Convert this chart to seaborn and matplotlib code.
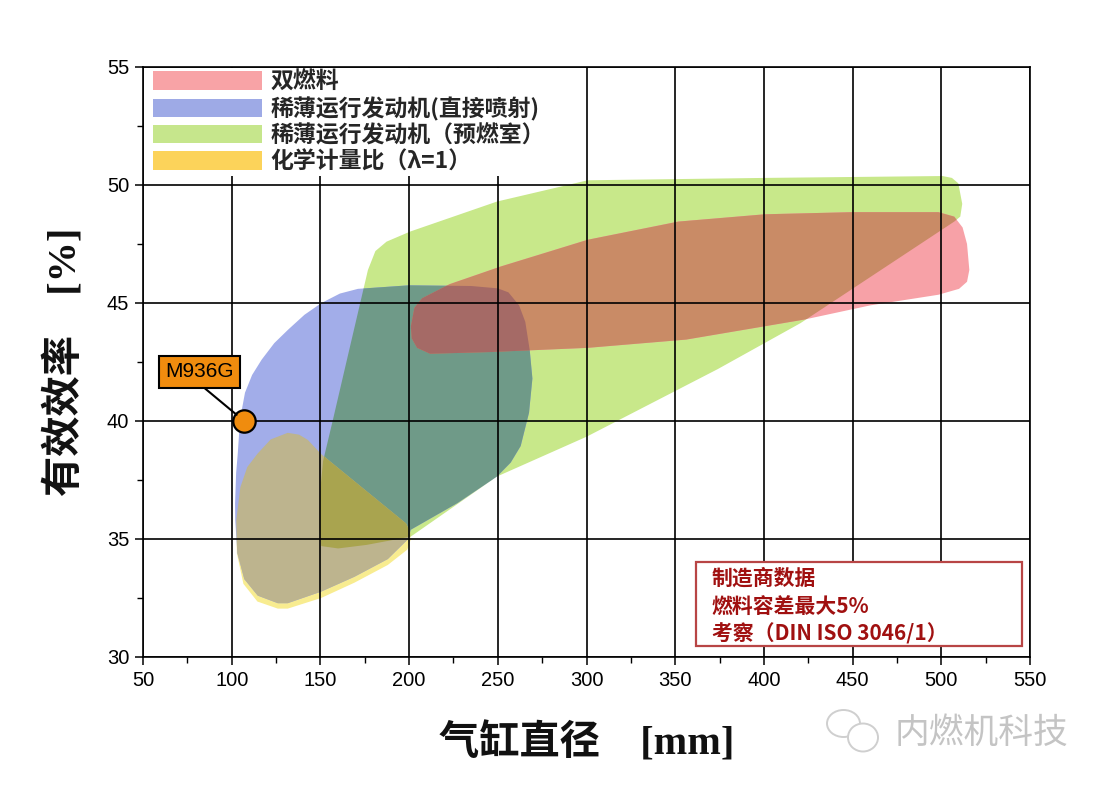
import numpy as np
import pandas as pd
import matplotlib
matplotlib.use("Agg")
import matplotlib.pyplot as plt
import seaborn as sns
from matplotlib.patches import Polygon, Patch, Rectangle, Ellipse

# ---------------- data ----------------
# outline of each operating region: cylinder bore [mm] vs efficiency [%]
red_x = [201, 203, 207.3, 222.9, 251.8, 300.7, 351.8, 400.7, 450, 498.4, 507.3, 512, 514.5, 515.8,
         514.5, 510, 498.4, 460, 422.9, 356.2, 300.7, 245.1, 211.8, 204.5, 201.5]
red_y = [44.0, 44.8, 45.2, 45.8, 46.55, 47.68, 48.45, 48.76, 48.85, 48.85, 48.66, 48.2, 47.5, 46.4,
         45.9, 45.6, 45.35, 44.9, 44.3, 43.45, 43.1, 42.92, 42.85, 43.1, 43.5]

green_x = [150.5, 149.5, 149.6, 151.5, 156.9, 165.9, 176.8, 181, 187.3, 200.7, 249.6, 300.7, 400,
           500.7, 506, 509.6, 511.8, 510.7, 507.3, 420.7, 374, 300.2, 249.6, 200.9, 176, 160]
green_y = [34.7, 35.5, 36.8, 38.3, 40.0, 42.9, 46.4, 47.2, 47.6, 48.03, 49.3, 50.2, 50.3,
           50.38, 50.3, 50.07, 49.2, 48.66, 48.45, 44.15, 42.2, 39.34, 37.65, 35.1, 34.75, 34.6]

blue_x = [171.2, 200, 235, 250, 256, 262, 265.5, 268, 269.5, 267.6, 262.9, 257.3, 249.6, 227.2,
          200.9, 199.5, 188, 169.2, 150.4, 131.6, 126, 114.7, 107.1, 103.2, 102.0, 101.9, 102.5,
          103.4, 104.7, 107.5, 111.5, 116.9, 124, 131.8, 141, 150.6, 161]
blue_y = [45.6, 45.75, 45.72, 45.62, 45.45, 44.9, 44.2, 43.0, 41.8, 40.35, 38.94, 38.24, 37.65, 36.52,
          35.39, 35.0, 34.15, 33.4, 32.77, 32.28, 32.28, 32.6, 33.3, 34.4, 35.8, 36.5, 37.8,
          38.6, 40.07, 41.2, 41.95, 42.6, 43.3, 43.87, 44.5, 45.0, 45.4]

yellow_x = [131.6, 138, 142.9, 150.4, 198.3, 200.6, 200.8, 199, 188, 169.2, 150.4, 131.6, 126, 114.5,
            106.6, 102.9, 102.6, 104.9, 108.8, 114.6, 122]
yellow_y = [39.5, 39.42, 39.2, 38.6, 35.66, 35.3, 34.95, 34.55, 33.9, 33.15, 32.5, 32.05, 32.05, 32.35,
            33.1, 34.4, 35.8, 37.2, 38.05, 38.62, 39.22]

legend_labels = ["双燃料", "稀薄运行发动机(直接喷射)", "稀薄运行发动机（预燃室）", "化学计量比（λ=1）"]

engine_name = ["M936G"]
engine_bore = [107]
engine_eff = [40.0]

note_lines = ["制造商数据", "燃料容差最大5%", "考察（DIN ISO 3046/1）"]

x_ticks = [50, 100, 150, 200, 250, 300, 350, 400, 450, 500, 550]
y_ticks = [30, 35, 40, 45, 50, 55]

# ---------------- styling ----------------
sns.set_theme(style="white")
plt.rcParams['font.family'] = ['Liberation Sans', 'Noto Sans CJK SC', 'DejaVu Sans']
CJK = ['Noto Sans CJK SC', 'DejaVu Sans']
SERIF_CJK = ['Liberation Serif', 'Noto Sans CJK SC', 'DejaVu Sans']

col_single = {"red": "#f7a1a7", "green": "#c8e88a", "blue": "#a2ade9", "yellow": "#f8ec90"}
col_legend = {"red": "#f8a3a6", "green": "#c6e68c", "blue": "#9eaae6", "yellow": "#fcd35a"}
col_blue_green = "#6f9a88"
col_red_green = "#c98b66"
col_red_blue_green = "#a56a66"
col_yellow_blue = "#bdb48e"
col_yellow_blue_green = "#a9a44f"

fig = plt.figure(figsize=(11.04, 7.87), dpi=100)
ax = fig.add_axes([143 / 1104, 1 - 657 / 787, 887 / 1104, 590 / 787])
ax.set_xlim(50, 550)
ax.set_ylim(30, 55)

shapes = {
    "red": np.column_stack([red_x, red_y]),
    "green": np.column_stack([green_x, green_y]),
    "blue": np.column_stack([blue_x, blue_y]),
    "yellow": np.column_stack([yellow_x, yellow_y]),
}


def fill_region(verts, color, clip=None, z=1.0):
    p = Polygon(verts, closed=True, facecolor=color, edgecolor='none', zorder=z, linewidth=0)
    ax.add_patch(p)
    if clip is not None:
        cp = Polygon(clip, closed=True, transform=ax.transData)
        p.set_clip_path(cp)
    return p


# single regions
for i, name in enumerate(["green", "yellow", "blue", "red"]):
    fill_region(shapes[name], col_single[name], z=1.0 + 0.01 * i)
# overlaps (multiplied colours)
fill_region(shapes["blue"], col_blue_green, clip=shapes["green"], z=1.2)
fill_region(shapes["red"], col_red_green, clip=shapes["green"], z=1.21)
fill_region(shapes["yellow"], col_yellow_blue, clip=shapes["blue"], z=1.22)
fill_region(shapes["red"], col_red_blue_green, clip=shapes["blue"], z=1.3)
fill_region(shapes["yellow"], col_yellow_blue_green, clip=shapes["green"], z=1.31)

# grid on top of the areas
ax.set_axisbelow(False)
ax.grid(True, which='major', color='black', linewidth=1.2)
ax.set_xticks(x_ticks)
ax.set_yticks(y_ticks)
ax.set_xticks(np.arange(75, 550, 50), minor=True)
ax.set_yticks(np.arange(32.5, 55, 5), minor=True)
ax.tick_params(which='major', direction='out', length=6, width=1.1, color='black',
               bottom=True, left=True, top=False, right=False, labelsize=14.5, labelcolor='black', pad=4)
ax.tick_params(which='minor', direction='out', length=4, width=1.0, color='black',
               bottom=True, left=True, top=False, right=False)
for s in ax.spines.values():
    s.set_color('black')
    s.set_linewidth(1.2)
    s.set_visible(True)

# legend
handles = [Patch(facecolor=col_legend[n], edgecolor='none') for n in ["red", "blue", "green", "yellow"]]
leg = ax.legend(handles, legend_labels, loc='upper left', bbox_to_anchor=(0.0087, 0.998),
                frameon=True, facecolor='white', edgecolor='none', framealpha=1.0, fancybox=False,
                handlelength=4.75, handleheight=0.85, handletextpad=0.38, labelspacing=0.14,
                borderpad=0.1, borderaxespad=0.0,
                prop={'family': CJK, 'size': 16.5, 'weight': 'bold'})
leg.set_zorder(6)

# engine point
df_pt = pd.DataFrame({"bore": engine_bore, "eff": engine_eff, "name": engine_name})
sns.scatterplot(data=df_pt, x="bore", y="eff", ax=ax, s=260, color="#f08c0e",
                edgecolor="black", linewidth=1.6, zorder=7, legend=False)
ax.annotate(engine_name[0], xy=(engine_bore[0], engine_eff[0]), xytext=(82.1, 42.08),
            ha='center', va='center', fontsize=15, color='black', zorder=8,
            bbox=dict(boxstyle='square,pad=0.3', facecolor='#f08c0e', edgecolor='black', linewidth=1.5),
            arrowprops=dict(arrowstyle='-', color='black', lw=1.5, shrinkA=0, shrinkB=7,
                            relpos=(0.45, 0.0)))
ax.set_xlabel("气缸直径　[mm]", fontsize=29, family=SERIF_CJK, weight='bold', labelpad=24, color='#111111')
ax.set_ylabel("有效效率　[%]", fontsize=29, family=SERIF_CJK, weight='bold', labelpad=16, color='#111111')

# note box
ax.add_patch(Rectangle((361.7, 30.47), 183.8, 3.56, facecolor='white', edgecolor='#b84545',
                       linewidth=1.6, zorder=6))
for yy, line in zip([33.35, 32.12, 30.97], note_lines):
    ax.text(370.5, yy, line, ha='left', va='center', fontsize=15, weight='bold',
            color='#a01010', family=CJK, zorder=7)

# watermark (logo outline + text)
W, H = 1104, 787
fig.patches.append(Ellipse((843.5 / W, 1 - 723.5 / H), 33 / W, 27 / H, transform=fig.transFigure,
                           facecolor='white', edgecolor='#cfcfcf', linewidth=1.4))
fig.patches.append(Ellipse((863 / W, 1 - 737.5 / H), 30 / W, 28 / H, transform=fig.transFigure,
                           facecolor='white', edgecolor='#cfcfcf', linewidth=1.4))
fig.text(0.81, 0.068, "内燃机科技", fontsize=25, color='#c4c4c4', family=CJK, ha='left', va='center')

fig.savefig("out.png", dpi=100)
